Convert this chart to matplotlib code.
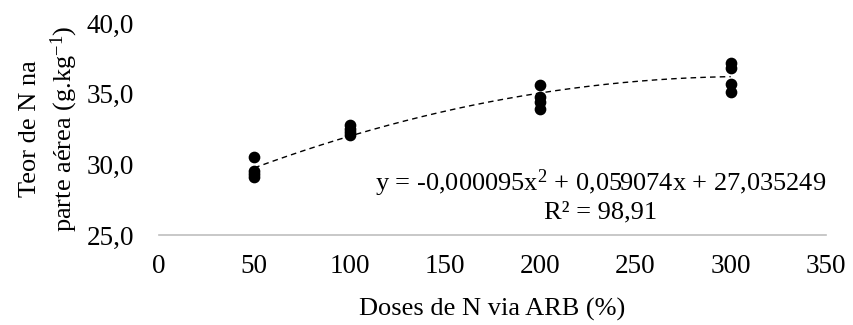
import numpy as np
import matplotlib
matplotlib.use("Agg")
import matplotlib.pyplot as plt

plt.rcParams['font.family'] = ['Liberation Serif', 'DejaVu Serif']
plt.rcParams['mathtext.fontset'] = 'custom'
plt.rcParams['mathtext.rm'] = 'Liberation Serif'
plt.rcParams['mathtext.it'] = 'Liberation Serif:italic'

# observed values (4 reps per dose)
doses = [50, 50, 50, 50, 100, 100, 100, 100, 200, 200, 200, 200, 300, 300, 300, 300]
teor_n = [30.5, 29.5, 29.3, 29.1,
          32.8, 32.5, 32.3, 32.1,
          35.6, 34.8, 34.4, 33.9,
          37.2, 36.8, 35.7, 35.1]

# quadratic fit coefficients
a = -0.000095
b = 0.059074
c = 27.035249

xticks = [0, 50, 100, 150, 200, 250, 300, 350]
yticks = [25, 30, 35, 40]

fig = plt.figure(figsize=(8.54, 3.25), dpi=100)
ax = fig.add_axes([0.1862, 0.277, 0.781, 0.652])

xf = np.linspace(50, 300, 200)
ax.plot(xf, a * xf**2 + b * xf + c, color='black', linestyle=(0, (4, 3)), linewidth=1)
ax.scatter(doses, teor_n, s=55, color='black', zorder=3)

ax.set_xlim(0, 350)
ax.set_ylim(25, 40)
ax.set_xticks(xticks)
ax.set_yticks(yticks)
ax.set_yticklabels([f"{v:.1f}".replace('.', ',') for v in yticks])
ax.tick_params(axis='both', length=0, labelsize=19.5)
ax.tick_params(axis='x', pad=14)
ax.tick_params(axis='y', pad=18)

for s in ['top', 'right', 'left']:
    ax.spines[s].set_visible(False)
ax.spines['bottom'].set_color('#bfbfbf')
ax.spines['bottom'].set_linewidth(1.2)

ax.set_xlabel('Doses de N via ARB (%)', fontsize=19, labelpad=13)
ax.set_ylabel('Teor de N na\nparte aérea (g.kg$^{-1}$)', fontsize=19, labelpad=5, linespacing=1.3)

ax.text(0.662, 0.245, 'y = -0,000095x$^{2}$ + 0,059074x + 27,035249',
        transform=ax.transAxes, ha='center', va='center', fontsize=19)
ax.text(0.662, 0.108, 'R² = 98,91',
        transform=ax.transAxes, ha='center', va='center', fontsize=19)

fig.savefig('out.png', dpi=100)
